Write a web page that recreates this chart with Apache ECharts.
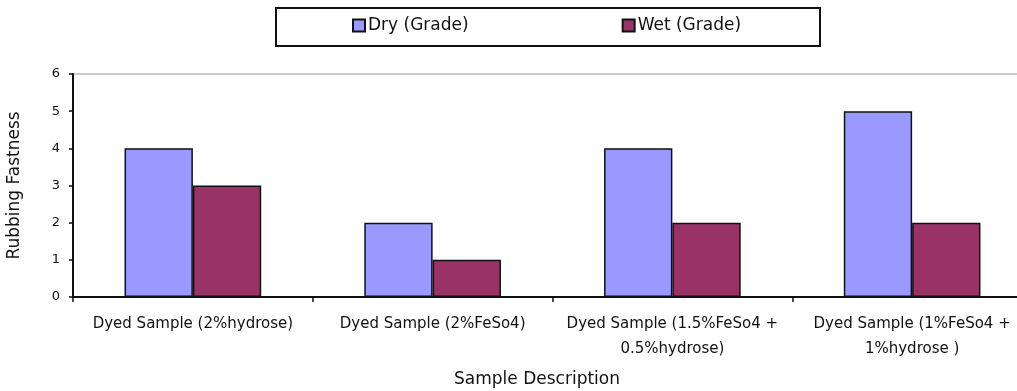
<!DOCTYPE html>
<html>
<head>
<meta charset="utf-8">
<script src="https://cdn.jsdelivr.net/npm/echarts@6/dist/echarts.min.js"></script>
<style>
  html, body { margin: 0; padding: 0; background: #fff; }
  #chart { width: 1017px; height: 391px; }
</style>
</head>
<body>
<div id="chart"></div>
<script>
// Rubbing fastness grades for each dyed sample
const categories = [
  'Dyed Sample (2%hydrose)',
  'Dyed Sample (2%FeSo4)',
  'Dyed Sample (1.5%FeSo4 +\n0.5%hydrose)',
  'Dyed Sample (1%FeSo4 +\n1%hydrose )'
];
const dryGrade = [4, 2, 4, 5];
const wetGrade = [3, 1, 2, 2];
const yTicks = [0, 1, 2, 3, 4, 5, 6];

const FONT = '"DejaVu Sans", "Liberation Sans", Arial, sans-serif';
const INK = '#111';
const chart = echarts.init(document.getElementById('chart'), null, { renderer: 'canvas' });

chart.setOption({
  animation: false,
  backgroundColor: '#fff',
  textStyle: { fontFamily: FONT, color: INK },
  graphic: [
    {
      // framed box behind the legend
      type: 'rect',
      shape: { x: 276, y: 8, width: 544, height: 38 },
      style: { fill: '#fff', stroke: INK, lineWidth: 2 },
      z: -1
    },
    {
      type: 'text',
      x: 537, y: 380,
      style: {
        text: 'Sample Description', font: '17px ' + FONT, fill: INK,
        align: 'center', verticalAlign: 'middle'
      }
    }
  ],
  legend: {
    left: 352, top: 17, padding: 0,
    itemWidth: 12, itemHeight: 12, itemGap: 153,
    icon: 'rect',
    textStyle: { fontSize: 17, fontFamily: FONT, color: INK, padding: [0, 0, 0, -2] },
    data: ['Dry (Grade)', 'Wet (Grade)']
  },
  grid: {
    left: 73, width: 959, top: 74, bottom: 94,
    outerBoundsMode: 'none',
    containLabel: false,
    show: true, borderColor: '#999', borderWidth: 1
  },
  xAxis: {
    type: 'category',
    data: categories,
    axisLine: { lineStyle: { color: INK, width: 2 } },
    axisTick: { show: true, length: 5, lineStyle: { color: INK, width: 1.5 } },
    axisLabel: {
      interval: 0, margin: 15, fontSize: 15, lineHeight: 25,
      color: INK, fontFamily: FONT
    }
  },
  yAxis: {
    type: 'value',
    min: yTicks[0], max: yTicks[yTicks.length - 1], interval: 1,
    name: 'Rubbing Fastness',
    nameLocation: 'middle', nameGap: 50,
    nameTextStyle: { fontSize: 17, color: INK, fontFamily: FONT },
    axisLine: { show: true, lineStyle: { color: INK, width: 2 } },
    axisTick: { show: true, length: 4, lineStyle: { color: INK, width: 1.5 } },
    axisLabel: { margin: 13, fontSize: 13, color: INK, fontFamily: FONT },
    splitLine: { show: false }
  },
  series: [
    {
      name: 'Dry (Grade)',
      type: 'bar',
      data: dryGrade,
      barGap: '0%',
      barCategoryGap: '43%',
      itemStyle: { color: '#9999FF', borderColor: INK, borderWidth: 1.5 }
    },
    {
      name: 'Wet (Grade)',
      type: 'bar',
      data: wetGrade,
      itemStyle: { color: '#993366', borderColor: INK, borderWidth: 1.5 }
    }
  ]
});
</script>
</body>
</html>
